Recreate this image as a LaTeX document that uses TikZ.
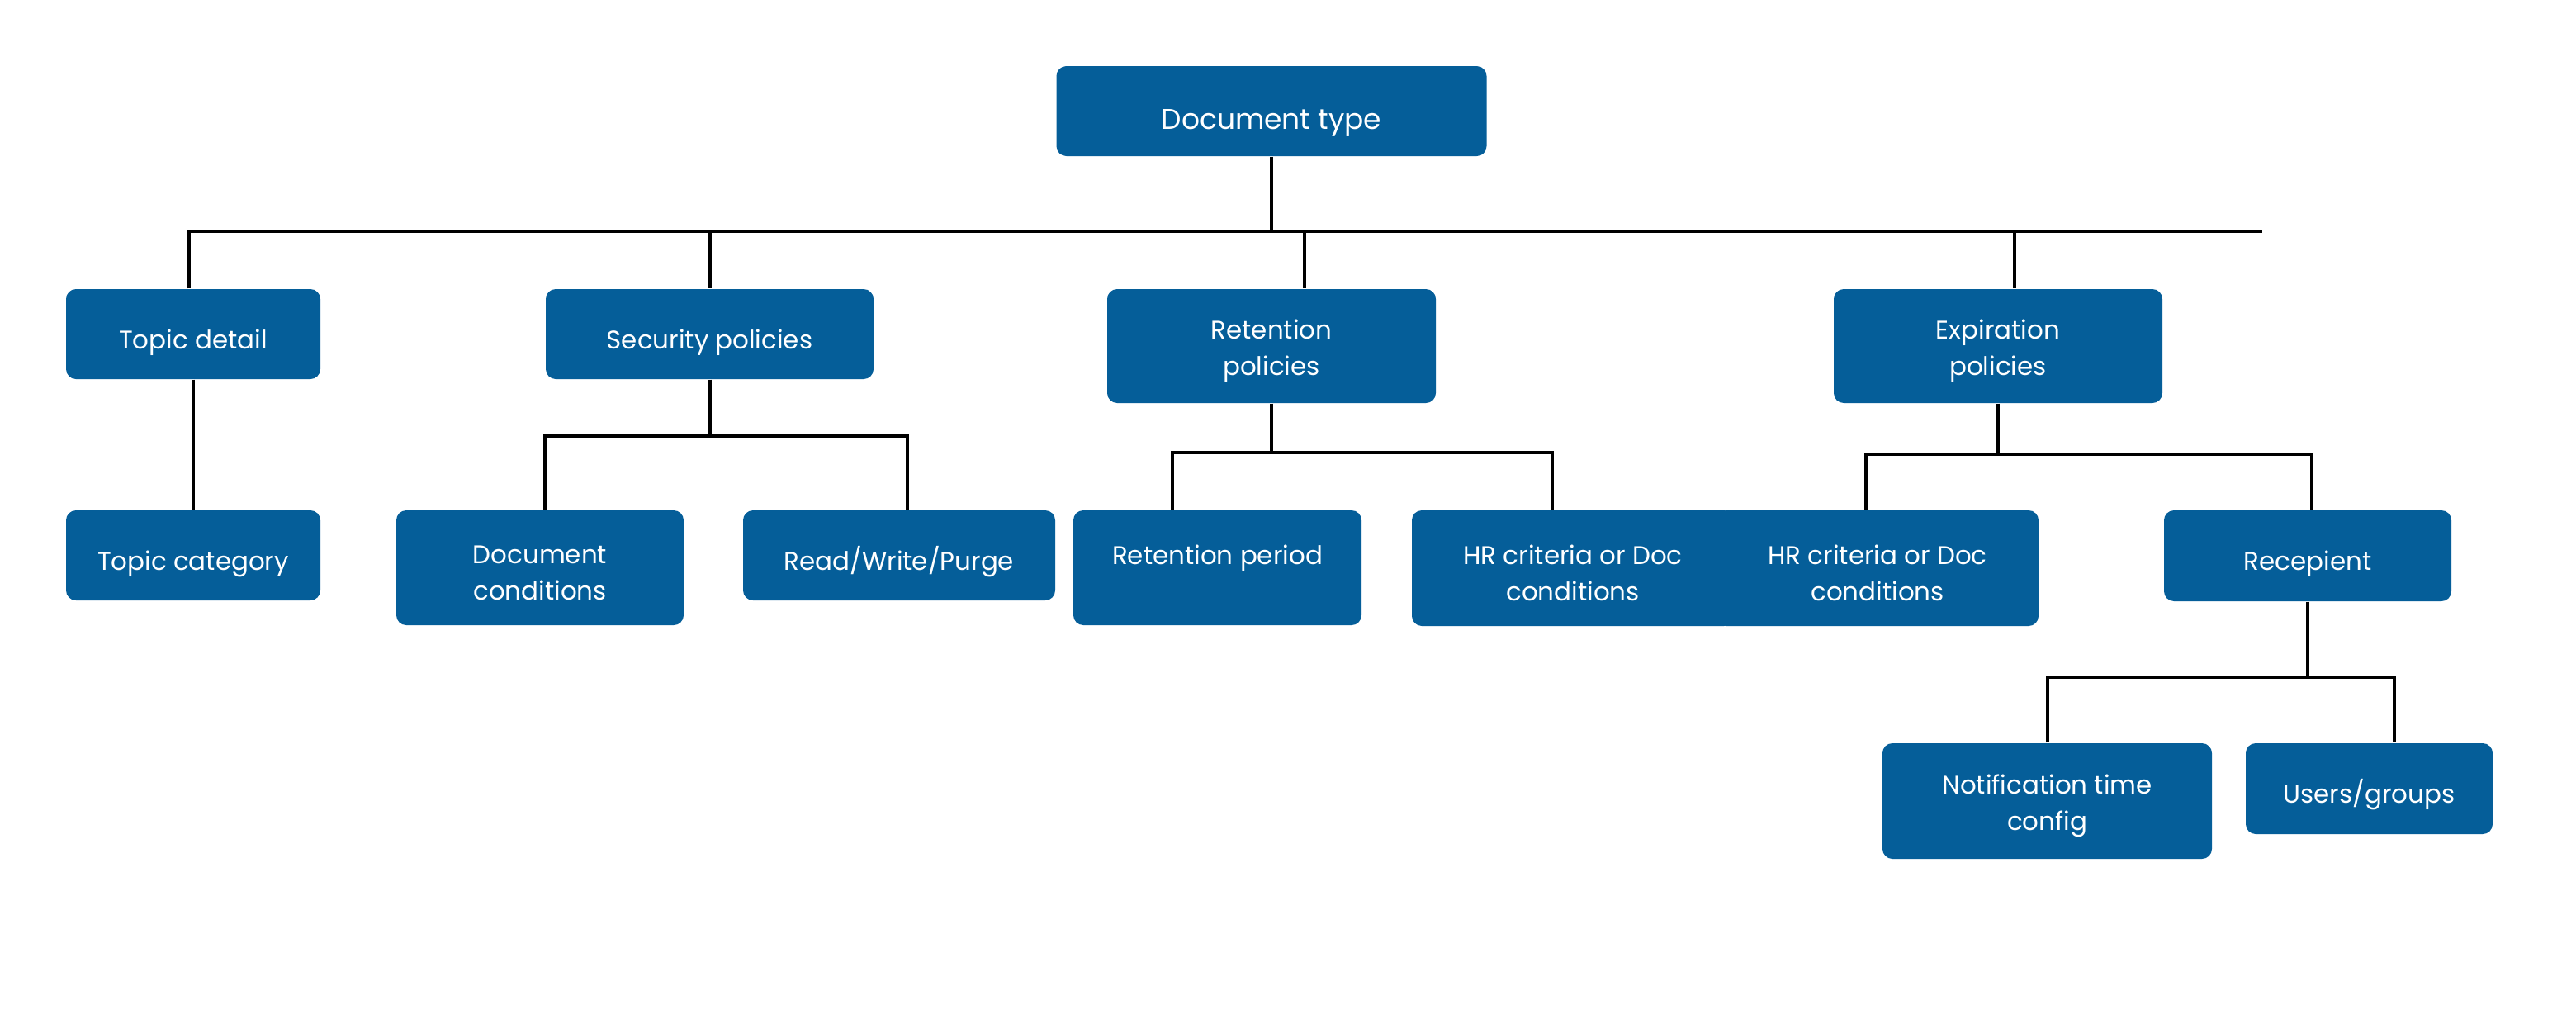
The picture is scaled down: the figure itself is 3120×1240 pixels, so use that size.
\documentclass[tikz,border=0pt]{standalone}
\usepackage{fontspec}
\setmainfont{Poppins}
\definecolor{boxblue}{HTML}{055E99}
\begin{document}
\begin{tikzpicture}[x=0.1mm,y=-0.1mm,
  box/.style={fill=boxblue, rounded corners=1.2mm, text=white, align=center,
    inner sep=0pt, font=\fontsize{8.8}{12.5}\selectfont,
    execute at begin node={\rule{0pt}{4.4mm}}},
  boxtwo/.style={box, execute at begin node={\rule{0pt}{7.9mm}}},
  conn/.style={line width=0.4mm, draw=black}]
\useasboundingbox[fill=white] (0,0) rectangle (3120,1240);
% nodes
\node[box, minimum width=52.1mm, minimum height=10.9mm, font=\fontsize{9.8}{13}\selectfont,
  execute at begin node={\rule{0pt}{5.2mm}}] (doc) at (1540,134.5) {Document type};
\node[box, minimum width=30.8mm, minimum height=10.9mm] (topic) at (234,404.5) {Topic detail};
\node[box, minimum width=39.7mm, minimum height=10.9mm] (sec) at (859.5,404.5) {Security policies};
\node[boxtwo, minimum width=39.8mm, minimum height=13.8mm] (ret) at (1540,419) {Retention\\policies};
\node[boxtwo, minimum width=39.8mm, minimum height=13.8mm] (exp) at (2420,419) {Expiration\\policies};
\node[box, minimum width=30.8mm, minimum height=10.9mm] (tcat) at (234,672.5) {Topic category};
\node[boxtwo, minimum width=34.8mm, minimum height=13.9mm] (dcond) at (654,687.5) {Document\\conditions};
\node[box, minimum width=37.8mm, minimum height=10.9mm] (rwp) at (1089,672.5) {Read/Write/Purge};
\node[boxtwo, minimum width=34.9mm, minimum height=13.9mm] (rper) at (1474.5,687.5) {Retention period\\\mbox{}};
\node[boxtwo, minimum width=39mm, minimum height=14mm] (hr1) at (1905,688) {HR criteria or Doc\\conditions};
\node[boxtwo, minimum width=39mm, minimum height=14mm] (hr2) at (2274,688) {HR criteria or Doc\\conditions};
\node[box, minimum width=34.8mm, minimum height=11mm] (rec) at (2795,673) {Recepient};
\node[boxtwo, minimum width=39.9mm, minimum height=14mm] (notif) at (2479.5,970) {Notification time\\config};
\node[box, minimum width=29.9mm, minimum height=11mm] (users) at (2869.5,955) {Users/groups};
% bus coordinates
\coordinate (busL) at (229,280);
\coordinate (busR) at (2740,280);
\coordinate (retup) at (1580,280);
\coordinate (expup) at (2440,280);
\coordinate (sbL) at (660,528);
\coordinate (sbR) at (1099,528);
\coordinate (rbL) at (1420,548);
\coordinate (rbR) at (1880,548);
\coordinate (ebL) at (2260,550);
\coordinate (ebR) at (2800,550);
\coordinate (nbL) at (2480,820);
\coordinate (nbR) at (2900,820);
% connectors
\draw[conn] (topic.north -| busL) -- (busL) -- (busR);
\draw[conn] (doc.south) -- (doc.south |- busL);
\draw[conn] (sec.north |- busL) -- (sec.north);
\draw[conn] (retup) -- (retup |- ret.north);
\draw[conn] (expup) -- (expup |- exp.north);
\draw[conn] (topic.south) -- (tcat.north);
\draw[conn] (sec.south) -- (sec.south |- sbL);
\draw[conn] (sbL |- dcond.north) -- (sbL) -- (sbR) -- (sbR |- rwp.north);
\draw[conn] (ret.south) -- (ret.south |- rbL);
\draw[conn] (rbL |- rper.north) -- (rbL) -- (rbR) -- (rbR |- hr1.north);
\draw[conn] (exp.south) -- (exp.south |- ebL);
\draw[conn] (ebL |- hr2.north) -- (ebL) -- (ebR) -- (ebR |- rec.north);
\draw[conn] (rec.south) -- (rec.south |- nbL);
\draw[conn] (nbL |- notif.north) -- (nbL) -- (nbR) -- (nbR |- users.north);
\end{tikzpicture}
\end{document}
